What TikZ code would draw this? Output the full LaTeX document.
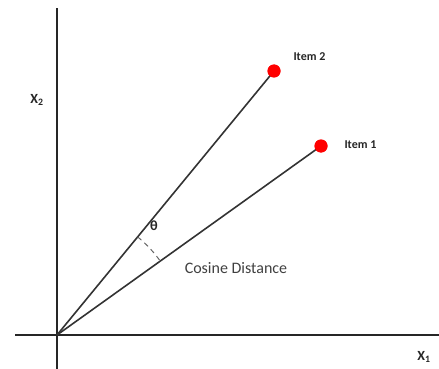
\documentclass[tikz,border=0pt]{standalone}
\usepackage{fontspec}
\setmainfont{Carlito}
\begin{document}
\begin{tikzpicture}[x=1pt,y=-1pt,
  axis/.style={line width=2.2pt,black!85},
  vec/.style={line width=1.6pt,black!80},
  itemdot/.style={circle,fill=red,inner sep=0pt,minimum size=13pt},
  lbl/.style={font=\bfseries\fontsize{12}{14}\selectfont,anchor=west,black!85},
  axlbl/.style={font=\bfseries\fontsize{14}{16}\selectfont,black!85}]
\useasboundingbox (0,0) rectangle (439,369);
\coordinate (O) at (57,335);
\coordinate (ytop) at (57,8);
\coordinate (ybot) at (57,369);
\coordinate (xl) at (15,335);
\coordinate (xr) at (439,335);
\draw[axis] (ybot) -- (ytop);
\draw[axis] (xl) -- (xr);
\node[itemdot] (i2) at (274,71) {};
\node[itemdot] (i1) at (321,146) {};
\draw[vec] (O) -- (i2.center);
\draw[vec] (O) -- (i1.center);
\node[itemdot] at (274,71) {};
\node[itemdot] at (321,146) {};
\node[lbl] (l2) at (290,57) {Item 2};
\node[lbl] (l1) at (341,145) {Item 1};
\node[axlbl] (x2) at (37,100) {X\textsubscript{2}};
\node[axlbl] (x1) at (424,357) {X\textsubscript{1}};
\node[font=\bfseries\fontsize{14}{16}\selectfont,black!85] (th) at (154,226) {θ};
\node[font=\fontsize{16}{18}\selectfont,black!75] (cd) at (236,268) {Cosine Distance};
\draw[dashed,dash pattern=on 5pt off 4pt,line width=1pt,black!60] (O) ++(-50.6:127) arc[start angle=-50.6,end angle=-35.6,radius=127];
\end{tikzpicture}
\end{document}
